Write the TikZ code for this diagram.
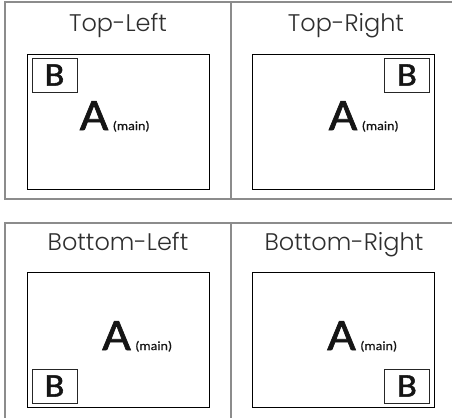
\documentclass[tikz,border=0pt]{standalone}
\usepackage{fontspec}
\newfontfamily\boxfont[FakeStretch=1.1,FakeBold=1.5]{Carlito}
\newfontfamily\tagfont[FakeStretch=1.12,FakeBold=0.6]{Carlito}
\newfontfamily\titlefont{Poppins Light}
\usetikzlibrary{positioning}
\definecolor{frameGray}{HTML}{8C8C8C}
\definecolor{titleGray}{HTML}{2E2E2E}
\definecolor{letterBlack}{HTML}{151515}

\begin{document}
\begin{tikzpicture}[x=1pt,y=-1pt,
  frameline/.style={frameGray,line width=1.4pt},
  paneltitle/.style={font=\titlefont\fontsize{24}{24}\selectfont,text=titleGray,inner sep=0pt,anchor=base},
  mainbox/.style={draw=black,line width=0.8pt,minimum width=182pt,minimum height=135pt,inner sep=0pt},
  subbox/.style={draw=black!85,line width=0.8pt,minimum width=45pt,minimum height=34pt,inner sep=0pt,
    font=\boxfont\fontsize{33}{33}\selectfont,text=letterBlack},
  bigA/.style={font=\boxfont\fontsize{45}{45}\selectfont,text=letterBlack,inner sep=0pt,anchor=base},
  maintag/.style={font=\tagfont\fontsize{12.5}{12.5}\selectfont,text=letterBlack,inner sep=0pt}]
  \useasboundingbox (0,0) rectangle (452,418);

  % outer frame
  \draw[frameline] (452,2) -- (5,2) -- (5,199) -- (452,199);
  \draw[frameline] (231,2) -- (231,199);
  \draw[frameline] (452,223) -- (5,223) -- (5,418);
  \draw[frameline] (231,223) -- (231,418);

  % top-left
  \node[paneltitle] (tTL) at (118,31.5) {Top-Left};
  \node[mainbox] (mTL) at (118,121.5) {};
  \node[subbox,below right=4pt and 5pt of mTL.north west] (bTL) {B};
  \node[bigA] (aTL) at (94,130) {A};
  \node[maintag,right=4pt of aTL.base east,anchor=base west] {(main)};

  % top-right
  \node[paneltitle] (tTR) at (346,31.5) {Top-Right};
  \node[mainbox] (mTR) at (343.5,121.5) {};
  \node[subbox,below left=4pt and 5pt of mTR.north east] (bTR) {B};
  \node[bigA] (aTR) at (343,130) {A};
  \node[maintag,right=4pt of aTR.base east,anchor=base west] {(main)};

  % bottom-left
  \node[paneltitle] (tBL) at (118,250) {Bottom-Left};
  \node[mainbox] (mBL) at (118,339.5) {};
  \node[subbox,above right=4pt and 5pt of mBL.south west] (bBL) {B};
  \node[bigA] (aBL) at (116.5,350) {A};
  \node[maintag,right=4pt of aBL.base east,anchor=base west] {(main)};

  % bottom-right
  \node[paneltitle] (tBR) at (344,250) {Bottom-Right};
  \node[mainbox] (mBR) at (343.5,339.5) {};
  \node[subbox,above left=4pt and 5pt of mBR.south east] (bBR) {B};
  \node[bigA] (aBR) at (341.5,350) {A};
  \node[maintag,right=4pt of aBR.base east,anchor=base west] {(main)};
\end{tikzpicture}
\end{document}
